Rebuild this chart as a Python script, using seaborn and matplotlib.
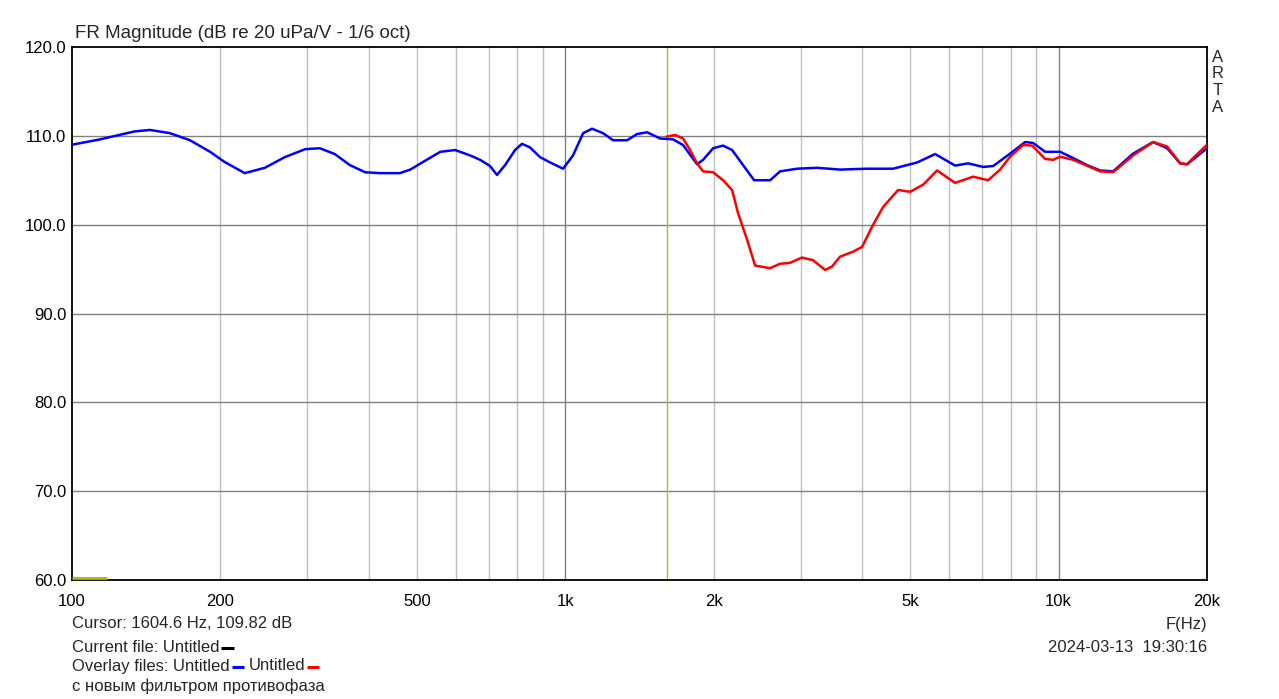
import matplotlib
matplotlib.use("Agg")
import matplotlib.pyplot as plt
from matplotlib.lines import Line2D
import seaborn as sns
import pandas as pd
import numpy as np

# ---- data ----
blue_freq = [100, 114, 134, 144, 158, 173.5, 190.5, 204, 224, 246, 270, 297, 318, 341, 366, 393,
             421, 462, 485, 520, 558, 598, 641, 672, 704, 727, 755, 791, 817, 848, 889, 932, 990,
             1037, 1087, 1133, 1193, 1250, 1335, 1398, 1465, 1557, 1654, 1733, 1850, 1903, 1994,
             2089, 2179, 2294, 2415, 2602, 2726, 2951, 3240, 3607, 4092, 4620, 5168, 5622, 6170,
             6557, 7034, 7370, 7978, 8557, 8882, 9394, 10075, 10706, 11429, 12144, 12902, 14167,
             15550, 16606, 17643, 18226, 20000]
blue_db = [109.0, 109.6, 110.5, 110.66, 110.3, 109.5, 108.2, 107.05, 105.8, 106.4, 107.6, 108.5,
           108.6, 107.95, 106.7, 105.9, 105.8, 105.8, 106.2, 107.2, 108.2, 108.4, 107.8, 107.3,
           106.6, 105.6, 106.7, 108.4, 109.1, 108.7, 107.6, 107.0, 106.3, 107.8, 110.3, 110.8,
           110.3, 109.5, 109.5, 110.2, 110.4, 109.7, 109.6, 108.97, 106.8, 107.3, 108.6, 108.9,
           108.4, 106.7, 105.0, 105.0, 106.0, 106.3, 106.4, 106.2, 106.3, 106.3, 107.0, 107.95,
           106.65, 106.9, 106.5, 106.6, 108.0, 109.3, 109.2, 108.2, 108.2, 107.5, 106.7, 106.1,
           106.0, 108.0, 109.3, 108.6, 106.9, 106.8, 108.6]

red_freq = [1604, 1670, 1733, 1791, 1850, 1903, 1994, 2089, 2179, 2240, 2337, 2426, 2602, 2726,
            2856, 3020, 3180, 3364, 3475, 3607, 3833, 3998, 4190, 4411, 4729, 5002, 5315, 5674,
            6170, 6712, 7199, 7613, 7978, 8477, 8842, 9394, 9752, 10075, 10706, 12144, 12902,
            14167, 15550, 16606, 17643, 18226, 18745, 20000]
red_db = [109.9, 110.1, 109.7, 108.4, 106.9, 106.0, 105.9, 105.0, 103.9, 101.3, 98.3, 95.4, 95.1,
          95.6, 95.7, 96.3, 96.0, 94.9, 95.3, 96.4, 96.96, 97.5, 99.8, 102.0, 103.9, 103.7, 104.5,
          106.1, 104.7, 105.4, 105.0, 106.2, 107.65, 108.97, 108.9, 107.4, 107.3, 107.65, 107.3,
          106.0, 105.9, 107.8, 109.3, 108.8, 106.9, 106.8, 107.5, 109.0]

x_ticks = [100, 200, 500, 1000, 2000, 5000, 10000, 20000]
x_tick_labels = ["100", "200", "500", "1k", "2k", "5k", "10k", "20k"]
y_ticks = [60, 70, 80, 90, 100, 110, 120]
y_tick_labels = ["60.0", "70.0", "80.0", "90.0", "100.0", "110.0", "120.0"]

cursor_freq = 1604.6
title = "FR Magnitude (dB re 20 uPa/V - 1/6 oct)"

# ---- drawing ----
sns.set_style("white")
plt.rcParams['font.family'] = ['Liberation Sans', 'DejaVu Sans']

W, H = 1279, 699
fig = plt.figure(figsize=(W / 100, H / 100), dpi=100)
L, R, T, B = 72, 1207, 47, 580
ax = fig.add_axes([L / W, 1 - B / H, (R - L) / W, (B - T) / H])

ax.set_xscale("log")
ax.set_xlim(100, 20000)
ax.set_ylim(60, 120)

# grid
minor = [f for d in (100, 1000, 10000) for f in [d * k for k in range(2, 10)] if f < 20000]
for f in minor:
    ax.axvline(f, color="#c0c0c0", lw=1.0, zorder=1)
for f in (1000, 10000):
    ax.axvline(f, color="#808080", lw=1.0, zorder=1)
for y in y_ticks[1:-1]:
    ax.axhline(y, color="#808080", lw=1.0, zorder=1)

# cursor
ax.axvline(cursor_freq, color="#bcbc20", lw=1.0, zorder=2)
ax.plot([100, 118], [60.25, 60.25], color="#b4b400", lw=2.0, zorder=3, solid_capstyle="butt")

dfb = pd.DataFrame({"f": blue_freq, "db": blue_db})
dfr = pd.DataFrame({"f": red_freq, "db": red_db})
sns.lineplot(data=dfb, x="f", y="db", ax=ax, color="#0000ff", lw=1.8, zorder=4, sort=False)
sns.lineplot(data=dfr, x="f", y="db", ax=ax, color="#ff0000", lw=1.8, zorder=5, sort=False)

ax.set_xticks(x_ticks)
ax.set_xticklabels(x_tick_labels)
ax.xaxis.set_minor_locator(matplotlib.ticker.NullLocator())
ax.set_yticks(y_ticks)
ax.set_yticklabels(y_tick_labels)
ax.tick_params(axis="both", length=0, labelsize=12, colors="black")
ax.tick_params(axis="x", pad=10)
ax.tick_params(axis="y", pad=4)
ax.set_xlabel("")
ax.set_ylabel("")
for s in ax.spines.values():
    s.set_color("black")
    s.set_linewidth(1.3)

def fx(px):
    return px / W

def fy(py):
    return 1 - py / H

fs = 12
fig.text(fx(75), fy(33), title, fontsize=13.5, va="center", ha="left")
for i, ch in enumerate("ARTA"):
    fig.text(fx(1218), fy(57 + i * 16.7), ch, fontsize=fs, va="center", ha="center")

fig.text(fx(72), fy(624), "Cursor: 1604.6 Hz, 109.82 dB", fontsize=fs, va="center", ha="left")
t1 = fig.text(fx(72), fy(647), "Current file: Untitled", fontsize=fs, va="center", ha="left")
t2 = fig.text(fx(72), fy(666), "Overlay files: Untitled", fontsize=fs, va="center", ha="left")
fig.text(fx(72), fy(686), "с новым фильтром противофаза", fontsize=fs, va="center", ha="left")
fig.text(fx(1207), fy(624), "F(Hz)", fontsize=fs, va="center", ha="right")
fig.text(fx(1207), fy(647), "2024-03-13  19:30:16", fontsize=fs, va="center", ha="right")

fig.canvas.draw()
r = fig.canvas.get_renderer()

def dash_after(txt, color, ypx):
    bb = txt.get_window_extent(r)
    x0 = bb.x1 + 2
    fig.add_artist(Line2D([x0 / W, (x0 + 12) / W], [fy(ypx), fy(ypx)], color=color, lw=2.2,
                          transform=fig.transFigure, solid_capstyle="butt"))
    return x0 + 12

dash_after(t1, "black", 648)
xe = dash_after(t2, "#0000ff", 667)
t3 = fig.text((xe + 5) / W, fy(666), "Untitled", fontsize=fs, va="center", ha="left")
fig.canvas.draw()
dash_after(t3, "#ff0000", 667)

fig.savefig("out.png", dpi=100)
